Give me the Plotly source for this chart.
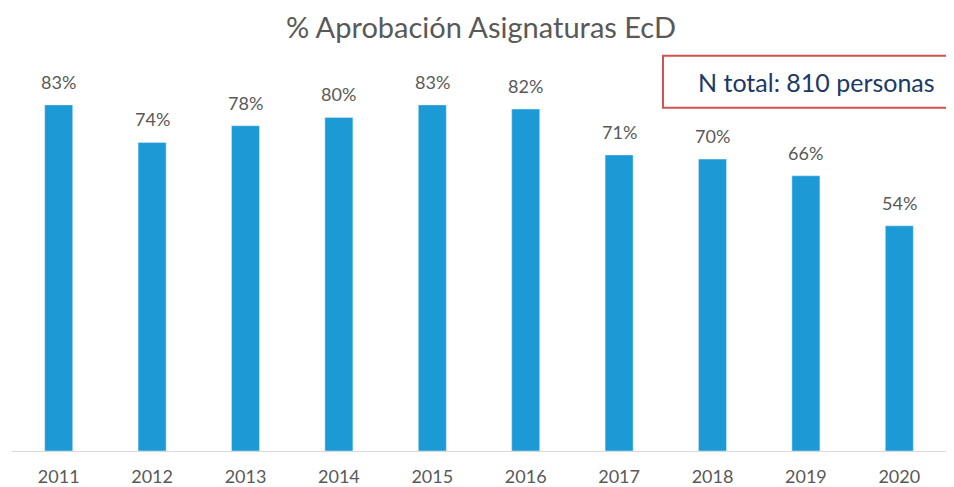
import plotly.graph_objects as go

years = ["2011", "2012", "2013", "2014", "2015", "2016", "2017", "2018", "2019", "2020"]
aprobacion = [83, 74, 78, 80, 83, 82, 71, 70, 66, 54]
labels = [f"{v}%" for v in aprobacion]

FONT = "Lato, Open Sans, sans-serif"
GRIS = "#595959"

fig = go.Figure(go.Bar(
    x=years, y=aprobacion,
    marker_color="#1B9AD6",
    width=0.30,
))

# etiquetas de datos encima de cada barra
# (en eje de categorias un "2011" se leeria como indice, asi que va el indice)
for i, (val, lab) in enumerate(zip(aprobacion, labels)):
    fig.add_annotation(x=i, y=val, text=lab, showarrow=False,
                       xanchor="center", yanchor="bottom", yshift=10,
                       font=dict(size=18, color=GRIS, family=FONT))

# la pagina se dibuja con 8px de margen del body, por eso 946x479
fig.update_layout(
    width=946, height=479,
    margin=dict(l=4, r=8, t=26, b=36),
    paper_bgcolor="white", plot_bgcolor="white",
    title=dict(text="% Aprobación Asignaturas EcD", x=0.5, xanchor="center",
               y=0.958, yanchor="middle",
               font=dict(size=29, color=GRIS, family=FONT)),
    showlegend=False,
    xaxis=dict(type="category", showline=True, linecolor="#D9D9D9", linewidth=1,
               ticks="", ticklabelstandoff=9, automargin=False,
               tickfont=dict(size=18, color=GRIS, family=FONT)),
    yaxis=dict(range=[0, 100], visible=False, showgrid=False, automargin=False),
)

# caja "N total"
fig.add_shape(type="rect", xref="paper", yref="paper",
              x0=0.697, x1=1.03, y0=0.823, y1=0.948,
              line=dict(color="#D05252", width=2), fillcolor="white")
fig.add_annotation(xref="paper", yref="paper", x=0.861, y=0.885,
                   xanchor="center", yanchor="middle",
                   text="N total: 810 personas", showarrow=False,
                   font=dict(size=25, color="#203864", family=FONT))

fig.write_html("out.html")
